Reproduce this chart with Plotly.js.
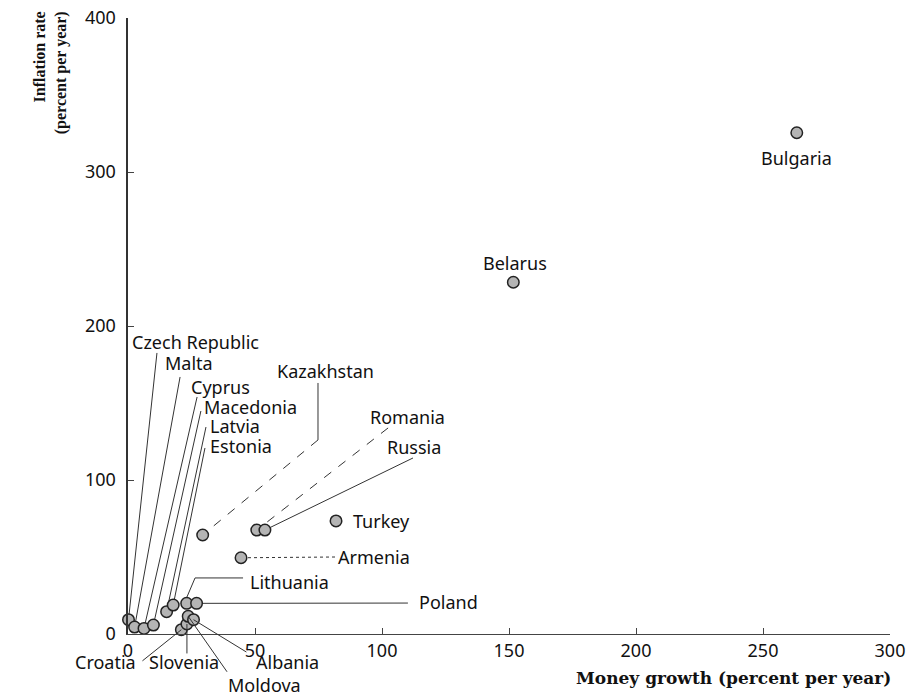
<!DOCTYPE html>
<html><head><meta charset="utf-8">
<script src="https://cdn.plot.ly/plotly-3.0.1.min.js"></script>
<style>html,body{margin:0;padding:0;background:#fff}</style>
</head><body><div id="chart" style="width:924px;height:698px"></div>
<script>
// ---- data ----
const countries = ["Bulgaria","Belarus","Turkey","Armenia","Kazakhstan","Romania","Russia",
  "Czech Republic","Malta","Cyprus","Macedonia","Latvia","Estonia","Lithuania","Poland",
  "Croatia","Slovenia","Moldova","Albania"];
const moneyGrowth = [263.3,151.7,81.9,44.5,29.4,50.7,53.9,
  0.2,2.6,6.3,10.0,15.2,17.8,23.1,27.0,
  21.0,23.2,23.7,25.8];
const inflation = [325.5,228.4,73.4,49.5,64.3,67.5,67.5,
  9.3,4.5,3.6,5.8,14.5,18.8,19.9,19.9,
  2.8,6.5,11.5,9.3];
const xTicks = [0,50,100,150,200,250,300];
const yTicks = [0,100,200,300,400];
const xTitle = "Money growth (percent per year)";
const yTitle = "Inflation rate<br>(percent per year)";

// ---- label placement (layout only) ----
const labelPos = {
  "Bulgaria": {x:263.0, y:309.1, xa:"center"},
  "Belarus": {x:152.4, y:240.9, xa:"center"},
  "Turkey": {x:87.8, y:73.4, xa:"left"},
  "Armenia": {x:81.9, y:50.0, xa:"left"},
  "Kazakhstan": {x:57.9, y:170.8, xa:"left"},
  "Romania": {x:94.5, y:140.9, xa:"left"},
  "Russia": {x:101.2, y:121.4, xa:"left"},
  "Czech Republic": {x:0.8, y:189.6, xa:"left"},
  "Malta": {x:13.8, y:176.0, xa:"left"},
  "Cyprus": {x:24.0, y:160.4, xa:"left"},
  "Macedonia": {x:29.1, y:147.4, xa:"left"},
  "Latvia": {x:31.5, y:135.1, xa:"left"},
  "Estonia": {x:31.5, y:122.1, xa:"left"},
  "Lithuania": {x:47.2, y:33.8, xa:"left"},
  "Poland": {x:113.8, y:20.8, xa:"left"},
  "Croatia": {paper:true, x:-0.0289, y:-0.0455, xa:"center"},
  "Slovenia": {paper:true, x:0.0741, y:-0.0455, xa:"center"},
  "Moldova": {paper:true, x:0.1785, y:-0.0830, xa:"center"},
  "Albania": {paper:true, x:0.2087, y:-0.0455, xa:"center"}
};
// leader segments: "P" = the country's data point
const leaders = {
  "Czech Republic": [{pts:[[11.4,182.5],"P"], dash:"solid"}],
  "Malta": [{pts:[[20.5,166.9],"P"], dash:"solid"}],
  "Cyprus": [{pts:[[27.2,153.9],"P"], dash:"solid"}],
  "Macedonia": [{pts:[[28.7,144.8],"P"], dash:"solid"}],
  "Latvia": [{pts:[[30.7,134.4],"P"], dash:"solid"}],
  "Estonia": [{pts:[[30.3,120.8],"P"], dash:"solid"}],
  "Kazakhstan": [{pts:[[74.8,163.0],[74.8,126.0]], dash:"solid"},{pts:[[74.8,126.0],"P"], dash:"dash"}],
  "Romania": [{pts:[[102.4,133.8],"P"], dash:"dash"}],
  "Russia": [{pts:[[112.2,114.3],"P"], dash:"solid"}],
  "Armenia": [{pts:[[81.5,50.0],"P"], dash:"dot"}],
  "Lithuania": [{pts:[[45.3,36.4],[26.4,36.4],[23.2,24.0]], dash:"solid"}],
  "Poland": [{pts:[[110.2,20.1],"P"], dash:"solid"}]
};
const bottomTails = {
  "Croatia": [5.1,-18.2],
  "Slovenia": [23.2,-13.6],
  "Albania": [47.2,-12.3],
  "Moldova": [39.4,-25.5]
};

const labelFont = {family:"Noto Sans, sans-serif", size:18, color:"#111"};
const annotations = [];
const shapes = [];

countries.forEach((c,i)=>{
  const p = labelPos[c];
  annotations.push({
    text:c, showarrow:false, font:labelFont,
    xref:p.paper?"paper":"x", yref:p.paper?"paper":"y",
    x:p.x, y:p.y, xanchor:p.xa, yanchor:"middle"
  });
  if(leaders[c]){
    leaders[c].forEach(seg=>{
      const pts = seg.pts.map(q=> q==="P" ? [moneyGrowth[i], inflation[i]] : q);
      let path = "M" + pts.map(q=>q[0]+","+q[1]).join(" L");
      shapes.push({type:"path", path:path, xref:"x", yref:"y", layer:"below",
        line:{color:"#333", width:1, dash:seg.dash}});
    });
  }
  if(bottomTails[c]){
    const t = bottomTails[c];
    annotations.push({text:"", showarrow:true, arrowhead:0, arrowwidth:1, arrowcolor:"#333",
      standoff:0, startstandoff:0,
      x:moneyGrowth[i], y:inflation[i], xref:"x", yref:"y",
      ax:t[0], ay:t[1], axref:"x", ayref:"y"});
  }
});

annotations.push({text:"<b>"+xTitle+"</b>", showarrow:false, xref:"paper", yref:"paper",
  x:1.004, y:-0.071, xanchor:"right", yanchor:"middle",
  font:{family:"DejaVu Serif, serif", size:17, color:"#111"}});
annotations.push({text:"<b>"+yTitle+"</b>", showarrow:false, xref:"paper", yref:"paper",
  x:-0.1024, y:1.015, xanchor:"center", yanchor:"top", textangle:-90, align:"right",
  font:{family:"Liberation Serif, serif", size:16, color:"#111"}});

const trace = {
  type:"scatter", mode:"markers", x:moneyGrowth, y:inflation, text:countries,
  hoverinfo:"text", cliponaxis:false,
  marker:{size:11.5, color:"#b4b4b4", line:{color:"#222", width:1.5}}
};

const layout = {
  width:924, height:698,
  margin:{l:128, r:34, t:18, b:64},
  paper_bgcolor:"#fff", plot_bgcolor:"#fff",
  showlegend:false,
  xaxis:{range:[0,300], tickvals:xTicks, ticktext:xTicks.map(String), ticks:"inside", ticklen:6,
    tickcolor:"#444", showline:true, linecolor:"#444", linewidth:1.2, showgrid:false, zeroline:false,
    tickfont:{family:"Noto Sans, sans-serif", size:18, color:"#111"}, ticklabelstandoff:0},
  yaxis:{range:[0,400], tickvals:yTicks, ticktext:yTicks.map(String), ticks:"inside", ticklen:6,
    tickcolor:"#444", showline:true, linecolor:"#333", linewidth:2.5, showgrid:false, zeroline:false,
    tickfont:{family:"Noto Sans, sans-serif", size:18, color:"#111"}, ticklabelstandoff:6},
  annotations:annotations, shapes:shapes
};
Plotly.newPlot("chart",[trace],layout,{displayModeBar:false, staticPlot:true});
</script></body></html>
